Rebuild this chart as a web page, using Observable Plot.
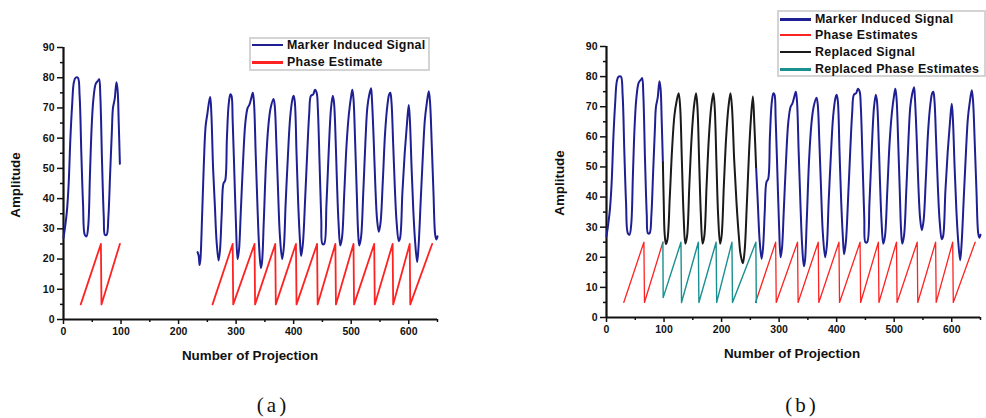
<!DOCTYPE html>
<html><head><meta charset="utf-8">
<script src="https://cdn.jsdelivr.net/npm/d3@7"></script>
<script src="https://cdn.jsdelivr.net/npm/@observablehq/plot@0.6"></script>
<style>
body{margin:0;background:#fff;}
#wrap{position:relative;width:986px;height:418px;overflow:hidden;font-family:"Liberation Sans",Arial,sans-serif;background:#fff;}
.panel{position:absolute;top:0;}
.lbl{position:absolute;font-weight:bold;font-size:13.4px;color:#111;white-space:nowrap;transform:translate(-50%,-50%);}
.lbl.rot{transform:translate(-50%,-50%) rotate(-90deg);}
.cap{position:absolute;font-family:"Liberation Serif",serif;font-size:21px;letter-spacing:3px;color:#111;transform:translate(-50%,-50%);}
.legend{position:absolute;border:2px solid #d4d4d4;background:#fff;box-sizing:border-box;}
.legend .row{position:absolute;left:1px;height:16px;display:flex;align-items:center;font-weight:bold;font-size:12.4px;color:#111;white-space:nowrap;letter-spacing:0.3px;}
.legend .sw{display:inline-block;width:31px;margin-right:4px;}
</style>
</head><body>
<div id="wrap"></div>
<script>
// ---- data ----
const xTicks = [0, 100, 200, 300, 400, 500, 600];
const xMinor = [50, 150, 250, 350, 450, 550, 650];
const yTicks = [0, 10, 20, 30, 40, 50, 60, 70, 80, 90];
const yMinor = [5, 15, 25, 35, 45, 55, 65, 75, 85];

const markerSignalSeg1 = [
 [0,27],[3,31],[6,36],[9,45],[12,60],[15,71],[18,78.5],[21,80],[25,80],[28,74],[31,55],[34,38],[37,28],[40,27.5],
 [43,31],[46,48],[49,64],[52,73],[56,78],[60,79],[62,79.5],[64,74],[67,52],[70,34],[72,28],[75,28],
 [78,34],[81,48],[84,62],[86,70],[89,73],[92,78.5],[94,76],[96,65],[98,51.5]
];
const markerSignalSeg2 = [
 [233,22.3],[235,21],[236.5,18],[238,20],[241,35],[244,52],[247,64],[250,68],[253,72],[255,73.6],[257,68],[260,50],
 [263,38],[266,26],[269.5,19.5],[272,23],[275,35],[278,45],[281,46],[284,60],[287,71],[290,74.5],[292,74],[294,66],
 [297,48],[300,30],[302.5,20],[305,23],[308,35],[312,52],[316,65],[320,70],[323,71],[326,73],[329,75],[331,72],
 [334,55],[337,38],[340,24],[343,17],[345,19],[348,32],[352,52],[356,64],[360,70],[365,73],[367,71],[370,58],
 [373,42],[376,28],[380,20],[383,24],[386,38],[390,54],[394,67],[398,73],[400,74],[402,72],[405,55],[408,38],
 [411,26],[413,21],[416,25],[420,40],[424,57],[427,68],[430,74],[434,74.5],[437,76],[440,75],[442,70],[445,52],
 [448,33],[450,25],[453,25],[457,38],[461,56],[465,70],[468,74],[470,72],[472,65],[475,47],[478,32],[481,24.5],
 [484,27],[488,42],[492,58],[496,68],[500,74],[502,76],[504,73],[507,58],[510,40],[512,29],[514,24.5],[517,27],
 [521,42],[525,60],[528,70],[531,74],[534.5,76.5],[536,73],[539,60],[542,44],[545,33],[548,29],[551,32],[555,46],
 [559,62],[563,71],[566,74.5],[568,75],[570,72],[573,58],[576,43],[579,32],[582.6,26],[585,27],[589,42],[593,55],
 [597,65],[600,71],[602,66],[605,50],[608,36],[611,26],[614.6,19],[617,24],[621,40],[625,56],[628,66],[631,71],
 [634.8,75.5],[637,72],[640,58],[643,42],[646,28],[648,26.5],[650,27.5]
];
const phaseSeg1 = [[30,5],[65,25],[66,5],[98,25]];
const phaseSeg2 = [
 [259,5],[294,25],[295,5],[332,25],[333,5],[368,25],[369,5],[404,25],[405,5],[440.7,25],[441.7,5],
 [472.5,25],[473.5,5],[504,25],[505,5],[540,25],[541,5],[572,25],[573,5],[601.7,25],[602.7,5],[640.7,25]
];
const replacedSignal = [
 [98,51.5],[99.5,38],[101,28],[103.3,24.4],[106,26],[110,40],[114,56],[118,67],[122,72],[125.4,74.5],[128,70],
 [131,52],[134,34],[137,24.5],[140,27],[144,44],[148,60],[152,70],[155.6,74.5],[158,70],[161,52],[164,34],
 [167,24.5],[170,27],[174,44],[178,60],[182,70],[185.7,74.5],[188,70],[191,52],[194,34],[197.4,24.5],[200,27],
 [204,44],[208,60],[212,70],[215.4,74.5],[218,70],[222,52],[226,38],[230,27],[233,21],[237,18],[240,22],
 [244,38],[248,56],[251,66],[254.4,73.4],[257,64],[260,50]
];
const replacedPhase = [
 [98,25],[98.5,6.6],[129.4,25],[130.4,5],[159.6,25],[160.6,5],[190.5,25],[191.5,5],[218,25],[219,5],[259.6,25],[260.4,5]
];

const legendA = ["Marker Induced Signal", "Phase Estimate"];
const legendB = ["Marker Induced Signal", "Phase Estimates", "Replaced Signal", "Replaced Phase Estimates"];

// ---- styling ----
const BLUE = "#1f1f94", RED = "#ff2222", BLACK = "#1a1a1a", TEAL = "#1a9090";
const wrap = document.getElementById("wrap");

function line(data, stroke, strokeWidth, curve) {
  return Plot.line(data, {x: d => d[0], y: d => d[1], stroke, strokeWidth, curve, strokeLinejoin: "round"});
}

function panel(m, lines) {
  return Plot.plot({
    width: 493, height: 380,
    marginLeft: m.l, marginRight: m.r, marginTop: m.t, marginBottom: m.b,
    x: {domain: [0, 650]},
    y: {domain: [0, 90]},
    style: {fontFamily: "'Liberation Sans', Arial, sans-serif", fontSize: "10.5px", fontWeight: "bold", color: "#111", background: "white", overflow: "visible"},
    marks: [
      Plot.axisY({ticks: yTicks, tickSize: 6, tickPadding: 3, label: null, strokeWidth: 1.5}),
      Plot.axisY({ticks: yMinor, tickSize: 3, text: null, label: null, strokeWidth: 1.5}),
      Plot.axisX({ticks: xTicks, tickSize: 5, tickPadding: 3, label: null, strokeWidth: 1.5}),
      Plot.axisX({ticks: xMinor, tickSize: 3, text: null, label: null, strokeWidth: 1.5}),
      Plot.ruleX([0], {strokeWidth: 2.2, stroke: "#111"}),
      Plot.ruleY([0], {strokeWidth: 2.2, stroke: "#111"}),
      ...lines
    ]
  });
}

// Panel (a)
const pa = panel({l: 63, r: 56, t: 47, b: 61}, [
  line(markerSignalSeg1, BLUE, 2, "catmull-rom"),
  line(markerSignalSeg2, BLUE, 2, "catmull-rom"),
  line(phaseSeg1, RED, 1.8, "linear"),
  line(phaseSeg2, RED, 1.8, "linear")
]);
pa.classList.add("panel"); pa.style.left = "0px";
wrap.appendChild(pa);

// Panel (b)
const pb = panel({l: 113, r: 6, t: 46, b: 63}, [
  line(markerSignalSeg1, BLUE, 2, "catmull-rom"),
  line(markerSignalSeg2.filter(d => d[0] >= 260), BLUE, 2, "catmull-rom"),
  line(replacedSignal, BLACK, 2, "catmull-rom"),
  line(phaseSeg1, RED, 1.3, "linear"),
  line(phaseSeg2, RED, 1.3, "linear"),
  line(replacedPhase, TEAL, 1.4, "linear")
]);
pb.classList.add("panel"); pb.style.left = "493px";
wrap.appendChild(pb);

function addDiv(cls, text, x, y) {
  const d = document.createElement("div");
  d.className = cls; d.textContent = text;
  d.style.left = x + "px"; d.style.top = y + "px";
  wrap.appendChild(d);
}
addDiv("lbl rot", "Amplitude", 15, 185);
addDiv("lbl rot", "Amplitude", 559, 183);
addDiv("lbl", "Number of Projection", 250, 355);
addDiv("lbl", "Number of Projection", 792, 353);
addDiv("cap", "(a)", 273, 405);
addDiv("cap", "(b)", 802, 405);

function legend(x, y, w, h, labels, swatches, rowYs) {
  const box = document.createElement("div");
  box.className = "legend";
  Object.assign(box.style, {left: x + "px", top: y + "px", width: w + "px", height: h + "px"});
  labels.forEach((t, i) => {
    const row = document.createElement("div");
    row.className = "row";
    row.style.top = (rowYs[i] - y - 2 - 8) + "px";
    const sw = document.createElement("span");
    sw.className = "sw";
    sw.style.height = swatches[i][1] + "px";
    sw.style.background = swatches[i][0];
    row.appendChild(sw);
    row.appendChild(document.createTextNode(t));
    box.appendChild(row);
  });
  wrap.appendChild(box);
}
legend(249, 37, 181, 34, legendA, [[BLUE, 1.3], [RED, 3]], [45, 62]);
legend(777, 10, 209, 67, legendB, [[BLUE, 3], [RED, 1.2], [BLACK, 1.5], [TEAL, 3]], [19, 35, 52, 69]);
</script>
</body></html>
